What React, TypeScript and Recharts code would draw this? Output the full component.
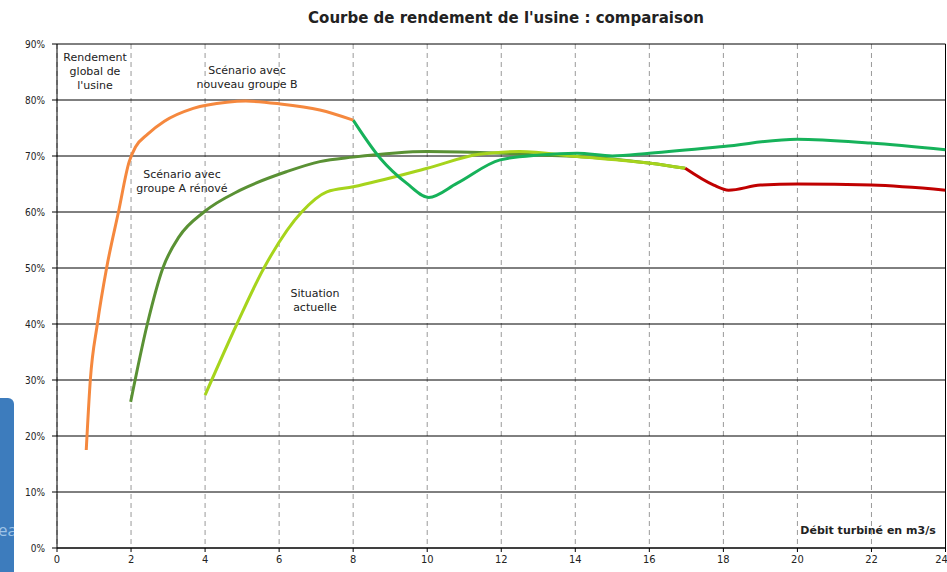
import React from "react";
import { LineChart, Line, XAxis, YAxis, CartesianGrid, ReferenceLine } from "recharts";

const xTicks = [0, 2, 4, 6, 8, 10, 12, 14, 16, 18, 20, 22, 24];
const yTicks = [0, 10, 20, 30, 40, 50, 60, 70, 80, 90];

const groupeB = [
  { x: 0.79, y: 17.5 }, { x: 0.9, y: 30 }, { x: 1.09, y: 40 },
  { x: 1.34, y: 50 }, { x: 1.66, y: 60 }, { x: 1.95, y: 69 }, { x: 2.12, y: 71.6 },
  { x: 2.45, y: 73.9 }, { x: 2.9, y: 76.2 }, { x: 3.68, y: 78.5 }, { x: 4.59, y: 79.6 }, { x: 5.1, y: 79.8 },
  { x: 6.03, y: 79.3 }, { x: 7.1, y: 78.2 }, { x: 8.0, y: 76.4 },
];

const groupeA = [
  { x: 1.99, y: 26.1 }, { x: 2.44, y: 40 }, { x: 2.86, y: 50 },
  { x: 3.3, y: 55.6 }, { x: 3.97, y: 60 }, { x: 4.95, y: 63.9 },
  { x: 6.2, y: 67.2 }, { x: 7.1, y: 69 }, { x: 8.0, y: 69.8 }, { x: 10, y: 70.8 },
  { x: 12, y: 70.5 }, { x: 13, y: 70.2 }, { x: 14.05, y: 69.9 }, { x: 16.03, y: 68.7 },
  { x: 16.97, y: 67.8 },
];

const actuelle = [
  { x: 4.0, y: 27.3 }, { x: 4.86, y: 40 }, { x: 5.59, y: 50 },
  { x: 6.61, y: 60 }, { x: 7.29, y: 63.6 }, { x: 8.0, y: 64.5 }, { x: 10, y: 67.8 },
  { x: 11.4, y: 70.3 }, { x: 12.5, y: 70.8 }, { x: 14.05, y: 69.9 }, { x: 16.03, y: 68.7 },
  { x: 16.97, y: 67.8 },
];

const groupeBSuite = [
  { x: 8.0, y: 76.4 }, { x: 8.73, y: 69.6 }, { x: 9.45, y: 65.1 }, { x: 10.04, y: 62.6 },
  { x: 10.8, y: 65.1 }, { x: 11.97, y: 69.3 }, { x: 13.05, y: 70.2 }, { x: 14.05, y: 70.5 },
  { x: 15.0, y: 70 }, { x: 16.0, y: 70.5 }, { x: 18.0, y: 71.7 }, { x: 19.99, y: 73 },
  { x: 21.97, y: 72.3 }, { x: 24, y: 71.1 },
];

const actuelleSuite = [
  { x: 16.97, y: 67.8 }, { x: 17.74, y: 64.8 }, { x: 18.14, y: 63.9 }, { x: 19.0, y: 64.8 },
  { x: 20, y: 65 }, { x: 22, y: 64.8 }, { x: 24, y: 63.9 },
];

const font = "'DejaVu Sans', sans-serif";
const condensed = "'DejaVu Sans Condensed', 'DejaVu Sans', sans-serif";

const Note = ({ left, top, width, children, bold }: any) => (
  <div
    style={{
      position: "absolute",
      left,
      top,
      width,
      textAlign: "center",
      fontFamily: font,
      fontSize: 11,
      lineHeight: "14px",
      color: "#222",
      fontWeight: bold ? "bold" : "normal",
      whiteSpace: "nowrap",
    }}
  >
    {children}
  </div>
);

export default function App() {
  return (
    <div style={{ position: "absolute", left: 0, top: 0, width: 947, height: 572, background: "#fff", overflow: "hidden" }}>
      <div
        style={{
          position: "absolute",
          left: 0,
          top: 398,
          width: 14,
          height: 174,
          background: "#3d7cbd",
          borderTopRightRadius: 6,
          overflow: "hidden",
        }}
      >
        <div style={{ position: "absolute", left: -2, top: 120, fontFamily: "'Open Sans', sans-serif", fontSize: 17, color: "#9ec3e6" }}>ea</div>
      </div>
      <div
        style={{
          position: "absolute",
          left: 0,
          top: 9,
          width: 1012,
          textAlign: "center",
          fontFamily: font,
          fontSize: 15,
          fontWeight: "bold",
          color: "#222",
        }}
      >
        Courbe de rendement de l'usine : comparaison
      </div>
      <div style={{ position: "absolute", left: 0, top: 0 }}>
        <LineChart width={947} height={572} margin={{ top: 44, right: 1.5, bottom: 0, left: 0 }}>
          <CartesianGrid horizontal={false} vertical={true} stroke="#999" strokeDasharray="5 4" />
          <CartesianGrid horizontal={true} vertical={false} stroke="#000" strokeDasharray="" />
          <XAxis
            type="number"
            dataKey="x"
            domain={[0, 24]}
            ticks={xTicks}
            height={24}
            stroke="#000"
            tickSize={4}
            tickMargin={3}
            tick={{ fill: "#222", fontSize: 11, fontFamily: condensed }}
            allowDataOverflow
          />
          <YAxis
            type="number"
            dataKey="y"
            domain={[0, 90]}
            ticks={yTicks}
            width={57}
            stroke="#000"
            tickSize={5}
            tickMargin={7}
            tickFormatter={(v: number) => `${v}%`}
            tick={{ fill: "#222", fontSize: 10, fontFamily: condensed }}
          />
          <ReferenceLine x={24} stroke="#000" />
          <Line data={groupeA} dataKey="y" type="monotone" stroke="#5a9134" strokeWidth={3} dot={false} isAnimationActive={false} />
          <Line data={actuelle} dataKey="y" type="monotone" stroke="#a6d41c" strokeWidth={3} dot={false} isAnimationActive={false} />
          <Line data={actuelleSuite} dataKey="y" type="monotone" stroke="#c00000" strokeWidth={3} dot={false} isAnimationActive={false} />
          <Line data={groupeBSuite} dataKey="y" type="monotone" stroke="#16b25a" strokeWidth={3} dot={false} isAnimationActive={false} />
          <Line data={groupeB} dataKey="y" type="monotone" stroke="#f5883e" strokeWidth={3} dot={false} isAnimationActive={false} />
        </LineChart>
      </div>
      <Note left={55} top={51} width={80}>Rendement<br />global de<br />l'usine</Note>
      <Note left={187} top={64} width={120}>Scénario avec<br />nouveau groupe B</Note>
      <Note left={122} top={168} width={120}>Scénario avec<br />groupe A rénové</Note>
      <Note left={275} top={287} width={80}>Situation<br />actuelle</Note>
      <Note left={793} top={524} width={150} bold>Débit turbiné en m3/s</Note>
    </div>
  );
}
